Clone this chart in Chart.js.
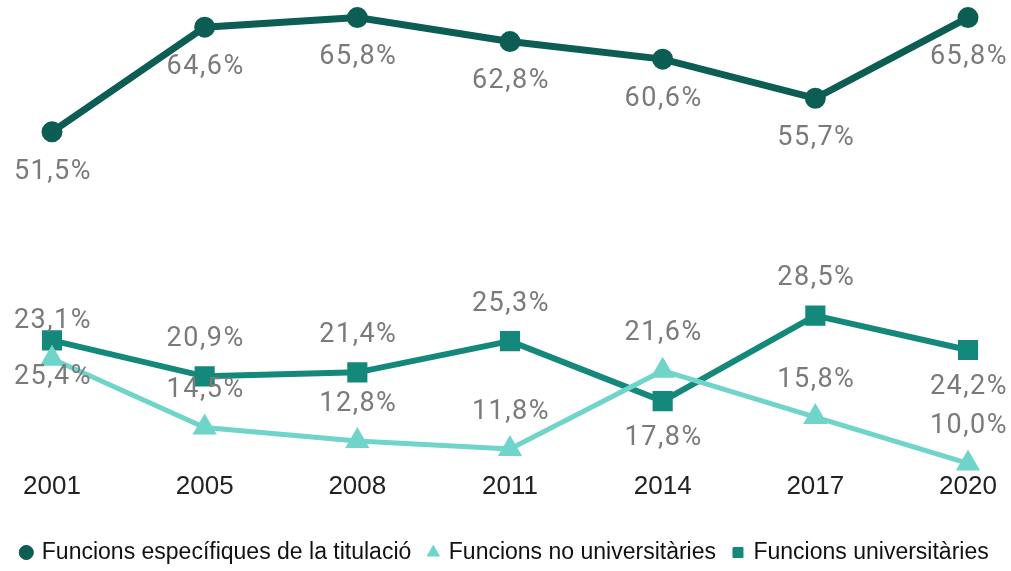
<!DOCTYPE html>
<html>
<head>
<meta charset="utf-8">
<script src="https://cdn.jsdelivr.net/npm/chart.js@4.4.1/dist/chart.umd.min.js"></script>
<style>
  html, body { margin: 0; padding: 0; background: #ffffff; }
  #wrap { width: 1011px; height: 571px; position: relative; }
</style>
</head>
<body>
<div id="wrap"><canvas id="c" width="1011" height="571"></canvas></div>
<script>
// ---- data ----
const years = ['2001', '2005', '2008', '2011', '2014', '2017', '2020'];
const seriesNames = ['Funcions específiques de la titulació', 'Funcions no universitàries', 'Funcions universitàries'];
const especifiques = [51.5, 64.6, 65.8, 62.8, 60.6, 55.7, 65.8];
const noUniversitaries = [23.1, 14.5, 12.8, 11.8, 21.6, 15.8, 10.0];
const universitaries = [25.4, 20.9, 21.4, 25.3, 17.8, 28.5, 24.2];

// ---- label placement (style) ----
const labelSide = [
  ['below', 'below', 'below', 'below', 'below', 'below', 'below'],
  ['above', 'above', 'above', 'above', 'above', 'above', 'above'],
  ['below', 'above', 'above', 'above', 'below', 'above', 'below']
];
const colors = ['#0c5d53', '#6fd4c9', '#14897b'];

const fmt = v => v.toFixed(1).replace('.', ',') + '%';

const valueLabels = {
  id: 'valueLabels',
  afterDatasetsDraw(chart) {
    const ctx = chart.ctx;
    ctx.save();
    ctx.font = '27px Roboto';
    ctx.fillStyle = '#7a7a7a';
    ctx.textAlign = 'center';
    ctx.textBaseline = 'middle';
    try { ctx.letterSpacing = '1.5px'; } catch (e) {}
    chart.data.datasets.forEach((ds, di) => {
      const meta = chart.getDatasetMeta(di);
      meta.data.forEach((pt, i) => {
        const side = labelSide[di][i];
        const off = di === 0 ? 40 : 37;
        const y = side === 'above' ? pt.y - off : pt.y + off;
        ctx.fillText(fmt(ds.data[i]), pt.x + 1, y);
      });
    });
    ctx.restore();
  }
};

const hiddenAxis = (pos, w) => ({
  position: pos,
  display: true,
  min: 9, max: 66,
  grid: { display: false, drawTicks: false },
  border: { display: false },
  ticks: { display: false },
  afterFit(scale) { scale.width = w; }
});

new Chart(document.getElementById('c'), {
  type: 'line',
  data: {
    labels: years,
    datasets: [
      {
        label: seriesNames[0], data: especifiques,
        borderColor: colors[0], backgroundColor: colors[0],
        borderWidth: 7, pointStyle: 'circle', pointRadius: 7, pointHoverRadius: 7,
        tension: 0, clip: false
      },
      {
        label: seriesNames[1], data: noUniversitaries,
        borderColor: colors[1], backgroundColor: colors[1],
        borderWidth: 5, pointStyle: 'triangle', pointRadius: 9, pointHoverRadius: 9,
        tension: 0, clip: false
      },
      {
        label: seriesNames[2], data: universitaries,
        borderColor: colors[2], backgroundColor: colors[2],
        borderWidth: 6, pointStyle: 'rect', pointRadius: 10, pointHoverRadius: 10,
        tension: 0, clip: false
      }
    ]
  },
  options: {
    responsive: false,
    animation: false,
    devicePixelRatio: 1,
    layout: { padding: { left: 0, right: 0, top: 2, bottom: -3 } },
    scales: {
      x: {
        offset: false,
        grid: { display: false, drawTicks: false },
        border: { display: false },
        ticks: {
          color: '#222222', padding: 0,
          font: { family: '"Liberation Sans", Arial, sans-serif', size: 26 }
        }
      },
      y: hiddenAxis('left', 52),
      y2: hiddenAxis('right', 43)
    },
    plugins: {
      tooltip: { enabled: false },
      legend: {
        position: 'bottom',
        title: { display: true, text: ' ', font: { size: 12 }, padding: { top: 6, bottom: 0 } },
        labels: {
          usePointStyle: true,
          boxWidth: 8, boxHeight: 10,
          padding: 18,
          color: '#111111',
          font: { family: '"Liberation Sans", Arial, sans-serif', size: 23 },
          generateLabels(chart) {
            const items = Chart.defaults.plugins.legend.labels.generateLabels(chart);
            items.forEach(it => { it.lineWidth = 1; });
            return items;
          }
        }
      }
    }
  },
  plugins: [valueLabels]
});
</script>
</body>
</html>
